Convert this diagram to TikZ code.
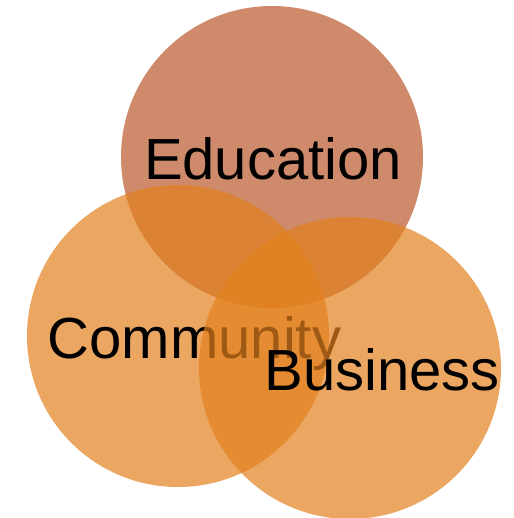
\documentclass[tikz,border=0pt]{standalone}
\usepackage{fontspec}
\setmainfont{Liberation Sans}
\definecolor{eduColor}{RGB}{186,88,45}
\definecolor{setColor}{RGB}{226,128,30}
\begin{document}
\begin{tikzpicture}[x=1pt,y=-1pt,
  setcircle/.style={circle,inner sep=0pt,minimum size=302pt,fill opacity=0.7},
  setlabel/.style={anchor=base,text=black,font=\fontsize{58}{62}\selectfont,inner sep=0pt}]
  \useasboundingbox (0,0) rectangle (513,518);
  \clip (0,0) rectangle (513,518);
  % education set and its label
  \node[setcircle,fill=eduColor] (edu) at (272,157) {};
  \node[setlabel] (eduText) at (273,180) {Education};
  % community set and its label
  \node[setcircle,fill=setColor] (com) at (178,336) {};
  \node[setlabel] (comText) at (194.5,358) {Community};
  % business set drawn over the community label
  \node[setcircle,fill=setColor] (bus) at (350,368) {};
  \node[setlabel] (busText) at (382,390) {Business};
\end{tikzpicture}
\end{document}
